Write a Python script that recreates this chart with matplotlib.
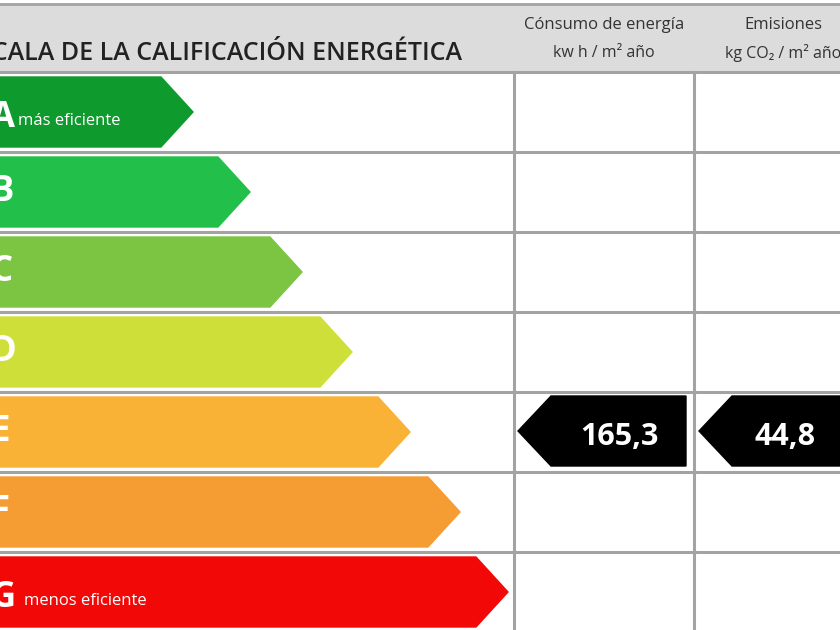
import matplotlib
matplotlib.use("Agg")
from matplotlib import pyplot as plt
from matplotlib.patches import Polygon, Rectangle

# datos de la etiqueta
letters = ["A", "B", "C", "D", "E", "F", "G"]
arrow_tips = [193, 250, 302, 352, 410, 460, 508]     # extremo derecho de cada flecha (px)
arrow_colors = ["#0e9a2c", "#22c04a", "#7cc543", "#cfdf3a", "#f9b235", "#f59c32", "#f30808"]
sub_labels = {"A": "más eficiente", "G": "menos eficiente"}

rating = "E"
consumo = "165,3"
emisiones = "44,8"

title = "ESCALA DE LA CALIFICACIÓN ENERGÉTICA"
col_titles = [("Cónsumo de energía", "kw h / m² año"), ("Emisiones", "kg CO₂ / m² año")]

# geometria
W, H = 840, 630
HEADER_TOP, HEADER_BOTTOM = 4, 72
ROW_H = 80
COL_X = [514, 694, 874]
TIP = 32
GRID = "#a3a3a3"

fig = plt.figure(figsize=(8.4, 6.3), dpi=100)
ax = fig.add_axes([0, 0, 1, 1])
ax.set_xlim(0, W)
ax.set_ylim(H, 0)
ax.axis("off")

# cabecera gris
ax.add_patch(Rectangle((0, HEADER_TOP), W, HEADER_BOTTOM - HEADER_TOP, color="#dcdcdc", zorder=0))
ax.plot([0, W], [HEADER_TOP, HEADER_TOP], color=GRID, lw=2, zorder=1)

ax.text(-36, 54, title, fontsize=18, fontweight="semibold", family="Open Sans",
        color="#222222", va="center", ha="left")
for i, (l1, l2) in enumerate(col_titles):
    cx = 604 if i == 0 else 783
    ax.text(cx, 25, l1, fontsize=12, family="Open Sans", color="#333333", ha="center", va="center")
    ax.text(cx, 53, l2, fontsize=11.5, family="Open Sans", color="#333333", ha="center", va="center")

# lineas de la tabla
for i in range(len(letters) + 1):
    y = HEADER_BOTTOM + i * ROW_H
    ax.plot([0, W], [y, y], color=GRID, lw=2.2, zorder=1)
for x in COL_X[:2]:
    ax.plot([x, x], [HEADER_BOTTOM, H], color=GRID, lw=2.2, zorder=1)

# flechas de colores
for i, letter in enumerate(letters):
    top = HEADER_BOTTOM + i * ROW_H + 5
    bot = top + 70
    mid = (top + bot) / 2
    tip = arrow_tips[i]
    pts = [(-5, top), (tip - TIP, top), (tip, mid), (tip - TIP, bot), (-5, bot)]
    ax.add_patch(Polygon(pts, closed=True, color=arrow_colors[i], zorder=2))
    dy = 6 if letter in sub_labels else 0
    ax.text(-9, mid + dy, letter, fontsize=25, fontweight="bold", family="Open Sans",
            color="white", va="center", ha="left", zorder=3)
    if letter in sub_labels:
        ax.text(18 if letter == "A" else 24, mid + 9, sub_labels[letter], fontsize=12,
                family="Open Sans", color="white", va="center", ha="left", zorder=3)

# flechas negras con los valores
r = letters.index(rating)
top = HEADER_BOTTOM + r * ROW_H + 4
bot = top + 70
mid = (top + bot) / 2
for left, right, val, tx in [(COL_X[0] + 4, 686, consumo, 619), (COL_X[1] + 5, W + 10, emisiones, 785)]:
    pts = [(left, mid), (left + 33, top), (right, top), (right, bot), (left + 33, bot)]
    ax.add_patch(Polygon(pts, closed=True, color="black", zorder=2))
    ax.text(tx, mid + 6, val, fontsize=22, fontweight="bold", family="Open Sans",
            color="white", ha="center", va="center", zorder=3)

fig.savefig("out.png", dpi=100)
